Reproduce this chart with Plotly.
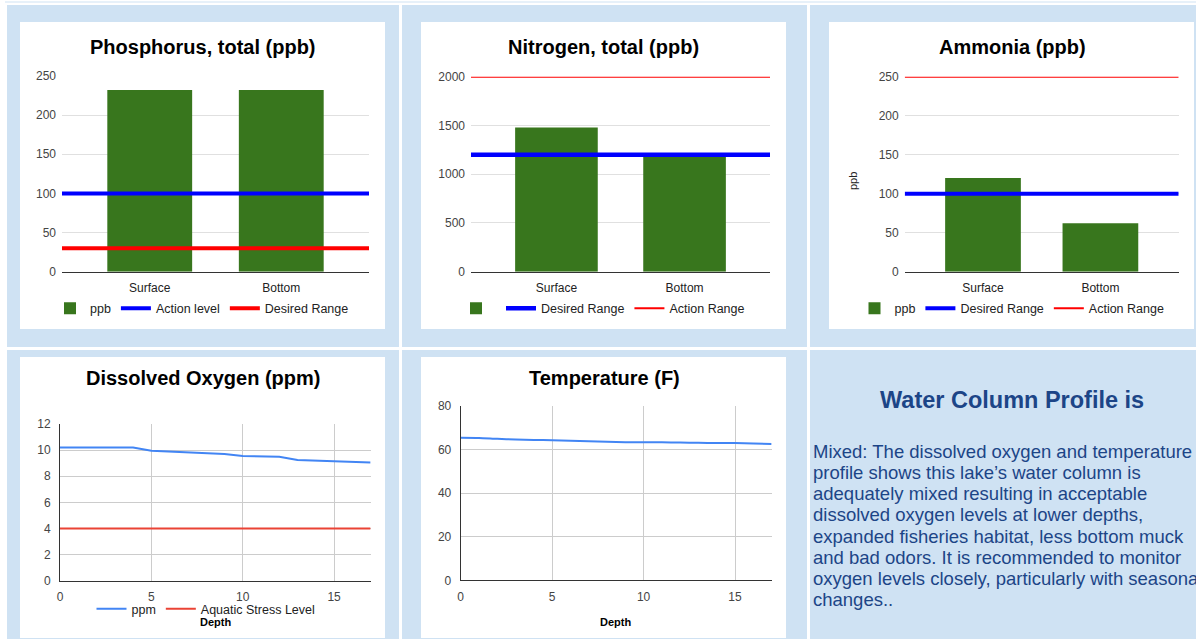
import plotly.graph_objects as go

W, H = 1196, 639

# ---------------- data ----------------
categories = ["Surface", "Bottom"]

phos_ppb = [232, 232]
phos_action_level = 100
phos_desired_range = 30

nitro_ppb = [1480, 1180]
nitro_desired_range = 1200
nitro_action_range = 2000

ammonia_ppb = [120, 62]
ammonia_desired_range = 100
ammonia_action_range = 250

depth = [0, 1, 2, 3, 4, 5, 6, 7, 8, 9, 10, 11, 12, 13, 14, 15, 16, 17]
do_ppm = [10.2, 10.2, 10.2, 10.2, 10.2, 9.95, 9.9, 9.85, 9.8, 9.7, 9.55, 9.5, 9.5, 9.25, 9.2, 9.15, 9.1, 9.05]
aquatic_stress = [4, 4, 4, 4, 4, 4, 4, 4, 4, 4, 4, 4, 4, 4, 4, 4, 4, 4]
temp_f = [65.3, 65.2, 64.8, 64.5, 64.3, 64.2, 63.9, 63.7, 63.5, 63.3, 63.2, 63.2, 63.1, 63.0, 62.9, 62.9, 62.7, 62.5]

bar_ticks_phos = [0, 50, 100, 150, 200, 250]
bar_ticks_nitro = [0, 500, 1000, 1500, 2000]
bar_ticks_amm = [0, 50, 100, 150, 200, 250]

text_title = "Water Column Profile is"
text_lines = [
    "Mixed: The dissolved oxygen and temperature",
    "profile shows this lake\u2019s water column is",
    "adequately mixed resulting in acceptable",
    "dissolved oxygen levels at lower depths,",
    "expanded fisheries habitat, less bottom muck",
    "and bad odors. It is recommended to monitor",
    "oxygen levels closely, particularly with seasonal",
    "changes..",
]

# ---------------- style ----------------
BG = "#cfe2f3"
GREEN = "#38761d"
PBLUE = "#0000ff"
PRED = "#ff0000"
GBLUE = "#4285f4"
GRED = "#ea4335"
FONT = "Liberation Sans, Arial, sans-serif"
TICKFONT = dict(family=FONT, size=12, color="#444444")
LEGFONT = dict(family=FONT, size=12.5, color="#222222")


def fx(px):
    return px / W


def fy(py):
    return 1 - py / H


def rect(x0, y0, x1, y1, color):
    return dict(type="rect", xref="paper", yref="paper", x0=fx(x0), x1=fx(x1),
                y0=fy(y1), y1=fy(y0), fillcolor=color, line_width=0, layer="below")


shapes = [
    rect(0, 0, W, H, "white"),
    dict(type="line", xref="paper", yref="paper", x0=fx(5), x1=1, y0=fy(2), y1=fy(2),
         line=dict(color=BG, width=1), layer="below"),
    rect(7, 5, 399, 347, BG), rect(402, 5, 807, 347, BG), rect(810, 5, W, 347, BG),
    rect(7, 350, 399, H, BG), rect(402, 350, 807, H, BG), rect(810, 350, W, H, BG),
    rect(20, 22, 385, 329, "white"), rect(421, 22, 786, 329, "white"),
    rect(829, 22, 1194, 329, "white"),
    rect(20, 357, 385, 638, "white"), rect(421, 357, 786, 638, "white"),
]

fig = go.Figure()

bar_panels = [
    dict(xc="x", xl="x2", y="y", leg="legend", vals=phos_ppb, bname="ppb",
         lines=[(phos_action_level, "Action level", PBLUE, 4), (phos_desired_range, "Desired Range", PRED, 4)],
         dom_x=(62, 369), dom_y=(76, 271.7), yr=250, ticks=bar_ticks_phos),
    dict(xc="x3", xl="x4", y="y2", leg="legend2", vals=nitro_ppb, bname="",
         lines=[(nitro_desired_range, "Desired Range", PBLUE, 4.5), (nitro_action_range, "Action Range", PRED, 2)],
         dom_x=(471, 770), dom_y=(76.7, 271.7), yr=2000, ticks=bar_ticks_nitro),
    dict(xc="x5", xl="x6", y="y3", leg="legend3", vals=ammonia_ppb, bname="ppb",
         lines=[(ammonia_desired_range, "Desired Range", PBLUE, 4), (ammonia_action_range, "Action Range", PRED, 2)],
         dom_x=(904.7, 1178.7), dom_y=(76.7, 271.7), yr=250, ticks=bar_ticks_amm),
]

layout_axes = {}
for p in bar_panels:
    fig.add_trace(go.Bar(x=categories, y=p["vals"], name=p["bname"], marker=dict(color=GREEN, line_width=0),
                         width=0.645, xaxis=p["xc"], yaxis=p["y"], legend=p["leg"], hoverinfo="skip"))
    for val, nm, col, lw in p["lines"]:
        fig.add_trace(go.Scatter(x=[0, 1], y=[val, val], mode="lines", name=nm,
                                 line=dict(color=col, width=lw), xaxis=p["xl"], yaxis=p["y"],
                                 legend=p["leg"], cliponaxis=False, hoverinfo="skip"))
    xc_key = "xaxis" + p["xc"][1:]
    xl_key = "xaxis" + p["xl"][1:]
    y_key = "yaxis" + p["y"][1:]
    layout_axes[xc_key] = dict(domain=[fx(p["dom_x"][0]), fx(p["dom_x"][1])], anchor=p["y"], type="category",
                               range=[-0.667, 1.667], showgrid=False, showline=True, linecolor="#333333",
                               linewidth=1, ticks="", tickfont=dict(family=FONT, size=12, color="#222222"),
                               ticklabelstandoff=5, fixedrange=True, automargin=False)
    layout_axes[xl_key] = dict(domain=[fx(p["dom_x"][0]), fx(p["dom_x"][1])], anchor=p["y"],
                               overlaying=p["xc"], range=[0, 1], visible=False, fixedrange=True,
                               automargin=False)
    layout_axes[y_key] = dict(domain=[fy(p["dom_y"][1]), fy(p["dom_y"][0])], anchor=p["xc"],
                              range=[0, p["yr"]], tickvals=p["ticks"], showgrid=True, gridcolor="#e0e0e0",
                              zeroline=False, showline=False, ticks="", tickfont=TICKFONT,
                              ticklabelstandoff=5, fixedrange=True, automargin=False)

fig.add_trace(go.Scatter(x=depth, y=do_ppm, mode="lines", name="ppm", line=dict(color=GBLUE, width=2),
                         xaxis="x7", yaxis="y4", legend="legend4", hoverinfo="skip"))
fig.add_trace(go.Scatter(x=depth, y=aquatic_stress, mode="lines", name="Aquatic Stress Level",
                         line=dict(color=GRED, width=2), xaxis="x7", yaxis="y4", legend="legend4",
                         hoverinfo="skip"))
fig.add_trace(go.Scatter(x=depth, y=temp_f, mode="lines", name="Temperature", showlegend=False,
                         line=dict(color=GBLUE, width=2, shape="spline", smoothing=0.6),
                         xaxis="x8", yaxis="y5", hoverinfo="skip"))

line_x_common = dict(range=[0, 17], tickvals=[0, 5, 10, 15], showgrid=True, gridcolor="#cccccc",
                     zeroline=False, showline=True, linecolor="#333333", linewidth=1, ticks="",
                     tickfont=TICKFONT, ticklabelstandoff=5, fixedrange=True, automargin=False)
line_y_common = dict(showgrid=True, gridcolor="#cccccc", zeroline=False, showline=True,
                     linecolor="#333333", linewidth=1, ticks="", tickfont=TICKFONT,
                     ticklabelstandoff=6, fixedrange=True, automargin=False)
layout_axes["xaxis7"] = dict(domain=[fx(60), fx(370.6)], anchor="y4", **line_x_common)
layout_axes["yaxis4"] = dict(domain=[fy(580.7), fy(424)], anchor="x7", range=[0, 12],
                             tickvals=[0, 2, 4, 6, 8, 10, 12], **line_y_common)
layout_axes["xaxis8"] = dict(domain=[fx(460.7), fx(771.6)], anchor="y5", **line_x_common)
layout_axes["yaxis5"] = dict(domain=[fy(580.3), fy(405.7)], anchor="x8", range=[0, 80],
                             tickvals=[0, 20, 40, 60, 80], **line_y_common)


def leg(cx, cy):
    return dict(x=fx(cx), y=fy(cy), xanchor="center", yanchor="middle", orientation="h",
                bgcolor="rgba(0,0,0,0)", font=LEGFONT, itemwidth=30, traceorder="normal")


annotations = []


def ann(text, cx, cy, size, color="#000000", bold=True, xanchor="center", angle=0):
    annotations.append(dict(text=("<b>%s</b>" % text) if bold else text, x=fx(cx), y=fy(cy),
                            xref="paper", yref="paper", xanchor=xanchor, yanchor="middle",
                            showarrow=False, textangle=angle,
                            font=dict(family=FONT, size=size, color=color)))


ann("Phosphorus, total (ppb)", 202.5, 47.5, 20)
ann("Nitrogen, total (ppb)", 603, 47.5, 20)
ann("Ammonia (ppb)", 1012, 47.5, 20)
ann("Dissolved Oxygen (ppm)", 203, 378, 20)
ann("Temperature (F)", 604, 378, 20)
ann("ppb", 853, 181, 11, color="#222222", bold=False, angle=-90)
ann("Depth", 215, 622, 11, color="#000000")
ann("Depth", 615, 622, 11, color="#000000")
ann(text_title, 1012, 400, 23.5, color="#1c4587")
for i, line in enumerate(text_lines):
    ann(line, 811, 451.5 + i * 21.15, 18.5, color="#1c4587", bold=False, xanchor="left")

fig.update_layout(
    width=W, height=H, autosize=False,
    margin=dict(l=0, r=0, t=0, b=0, pad=0, autoexpand=False),
    paper_bgcolor="white", plot_bgcolor="rgba(0,0,0,0)",
    shapes=shapes, annotations=annotations,
    legend=leg(202, 308.5), legend2=leg(603, 308.5), legend3=leg(1012, 308.5), legend4=leg(206, 609),
    **layout_axes,
)

fig.write_html(
    "out.html",
    config={"displayModeBar": False, "staticPlot": False},
    post_script="document.body.style.margin='0';document.body.style.padding='0';"
                "document.documentElement.style.overflow='hidden';document.body.style.overflow='hidden';",
)
